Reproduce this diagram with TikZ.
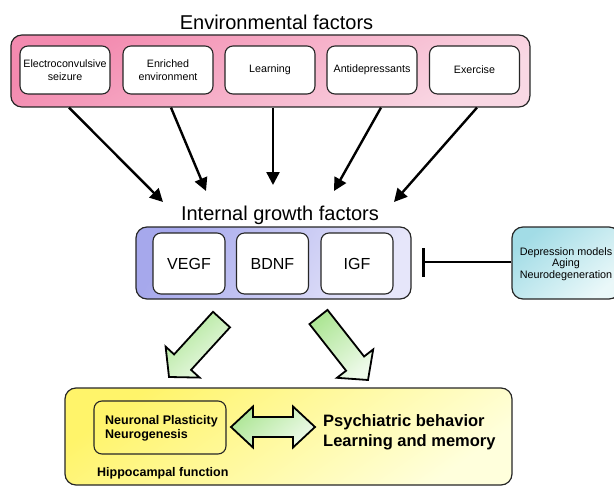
\documentclass[tikz,border=0pt]{standalone}
\usepackage{fontspec}
\setmainfont{Liberation Sans}
\usetikzlibrary{arrows.meta}
\definecolor{pinkD}{HTML}{F38AAF}
\definecolor{pinkL}{HTML}{F9D8E4}
\definecolor{blueD}{HTML}{A6A8EC}
\definecolor{blueL}{HTML}{E6E6FA}
\definecolor{tealD}{HTML}{A2DCE6}
\definecolor{tealL}{HTML}{EAF8F9}
\definecolor{yelD}{HTML}{FFF46A}
\definecolor{yelL}{HTML}{FFFFDC}
\definecolor{grnD}{HTML}{AEE696}
\definecolor{grnL}{HTML}{EEFAEA}
\tikzset{
  grp/.style={rectangle, draw=black!85, line width=1.2pt, rounded corners=11pt, inner sep=0pt},
  item/.style={rectangle, draw=black!85, line width=1.1pt, rounded corners=8pt, fill=white, align=center, inner sep=0pt},
  smalltxt/.style={font=\fontsize{10.7}{12.5}\selectfont},
  gfac/.style={font=\fontsize{16}{18}\selectfont},
  titletxt/.style={font=\fontsize{20}{22}\selectfont, anchor=base, inner sep=0pt},
  blk/.style={draw=black, line width=2.4pt, -{Triangle[length=13pt,width=13pt]}},
  inhib/.style={draw=black, line width=2pt, -{Bar[width=29pt,line width=2.6pt]}},
  fat/.style={draw=black, line width=1.8pt, line join=miter, top color=grnD, bottom color=grnL, shading angle=40},
  boldtxt/.style={font=\bfseries\fontsize{12.5}{14}\selectfont, anchor=west, inner sep=0pt},
  bigbold/.style={font=\bfseries\fontsize{16.5}{20}\selectfont, anchor=west, inner sep=0pt, align=left},
}
\begin{document}
\begin{tikzpicture}[x=1pt,y=-1pt]
\useasboundingbox (0,0) rectangle (614,487);
% Environmental factors
\node[titletxt] (envt) at (276.5,30) {Environmental factors};
\node[grp, minimum width=519pt, minimum height=72pt, top color=pinkD, bottom color=pinkL, shading angle=30] (env) at (270.4,71) {};
\node[item, smalltxt, minimum width=90pt, minimum height=48pt] (b1) at (65,70) {Electroconvulsive\\seizure};
\node[item, smalltxt, minimum width=90pt, minimum height=48pt] (b2) at (168,70) {Enriched\\environment};
\node[item, smalltxt, minimum width=90pt, minimum height=48pt] (b3) at (270,70) {Learning};
\node[item, smalltxt, minimum width=90pt, minimum height=48pt] (b4) at (372,70) {Antidepressants};
\node[item, smalltxt, minimum width=90pt, minimum height=48pt] (b5) at (474.5,70) {Exercise};
% Internal growth factors
\node[titletxt] (intt) at (280,220) {Internal growth factors};
\node[grp, minimum width=275pt, minimum height=72pt, top color=blueD, bottom color=blueL, shading angle=60] (gf) at (273.5,263) {};
\node[item, gfac, minimum width=72pt, minimum height=61pt] (vegf) at (189,263.5) {VEGF};
\node[item, gfac, minimum width=72pt, minimum height=61pt] (bdnf) at (272.5,263.5) {BDNF};
\node[item, gfac, minimum width=72pt, minimum height=61pt] (igf) at (357,263.5) {IGF};
% Depression models
\node[grp, minimum width=108pt, minimum height=72pt, top color=tealD, bottom color=tealL, shading angle=40] (dep) at (566,263) {};
\node[smalltxt, align=center, inner sep=0pt, font=\fontsize{10.8}{11.6}\selectfont] (deptxt) at (566,264) {Depression models\\Aging\\Neurodegeneration};
% arrow tips
\coordinate (t1) at (163,202);
\coordinate (t2) at (206,191);
\coordinate (t3) at (273,185);
\coordinate (t4) at (334,191);
\coordinate (t5) at (394,202);
\coordinate (tb) at (422,262);
\draw[blk] ([xshift=4pt]env.south -| b1) -- (t1);
\draw[blk] ([xshift=3pt]env.south -| b2) -- (t2);
\draw[blk] ([xshift=3pt]env.south -| b3) -- (t3);
\draw[blk] ([xshift=9pt]env.south -| b4) -- (t4);
\draw[blk] ([xshift=2.5pt]env.south -| b5) -- (t5);
\draw[inhib] (dep.west |- tb) -- (tb);
% Hippocampal function
\node[grp, minimum width=447pt, minimum height=97pt, top color=yelD, bottom color=yelL, shading angle=35] (hip) at (288.5,436.5) {};
\node[rectangle, draw=black!85, line width=1.1pt, rounded corners=8pt, minimum width=132pt, minimum height=53pt] (np) at (160,427.5) {};
\node[boldtxt] (np1) at (105,421) {Neuronal Plasticity};
\node[boldtxt] (np2) at (105,435.5) {Neurogenesis};
\node[boldtxt] (hf) at (97,473) {Hippocampal function};
\node[bigbold] (psy) at (323,432) {Psychiatric behavior\\Learning and memory};
% green block arrows
\path[fat] (213,311.8) -- (174.1,354.4) -- (165.6,346.6) -- (169,377) -- (199.6,377.6) -- (191.1,369.9) -- (230,327.3) -- cycle;
\path[fat] (327.5,309.9) -- (364.1,356.5) -- (373.2,349.4) -- (368,380) -- (337,377.8) -- (346.1,370.7) -- (309.5,324.1) -- cycle;
\path[fat] (231,427) -- (253,406.5) -- (253,417) -- (293,417) -- (293,406.5) -- (315,427) -- (293,447.5) -- (293,437) -- (253,437) -- (253,447.5) -- cycle;
\end{tikzpicture}
\end{document}
